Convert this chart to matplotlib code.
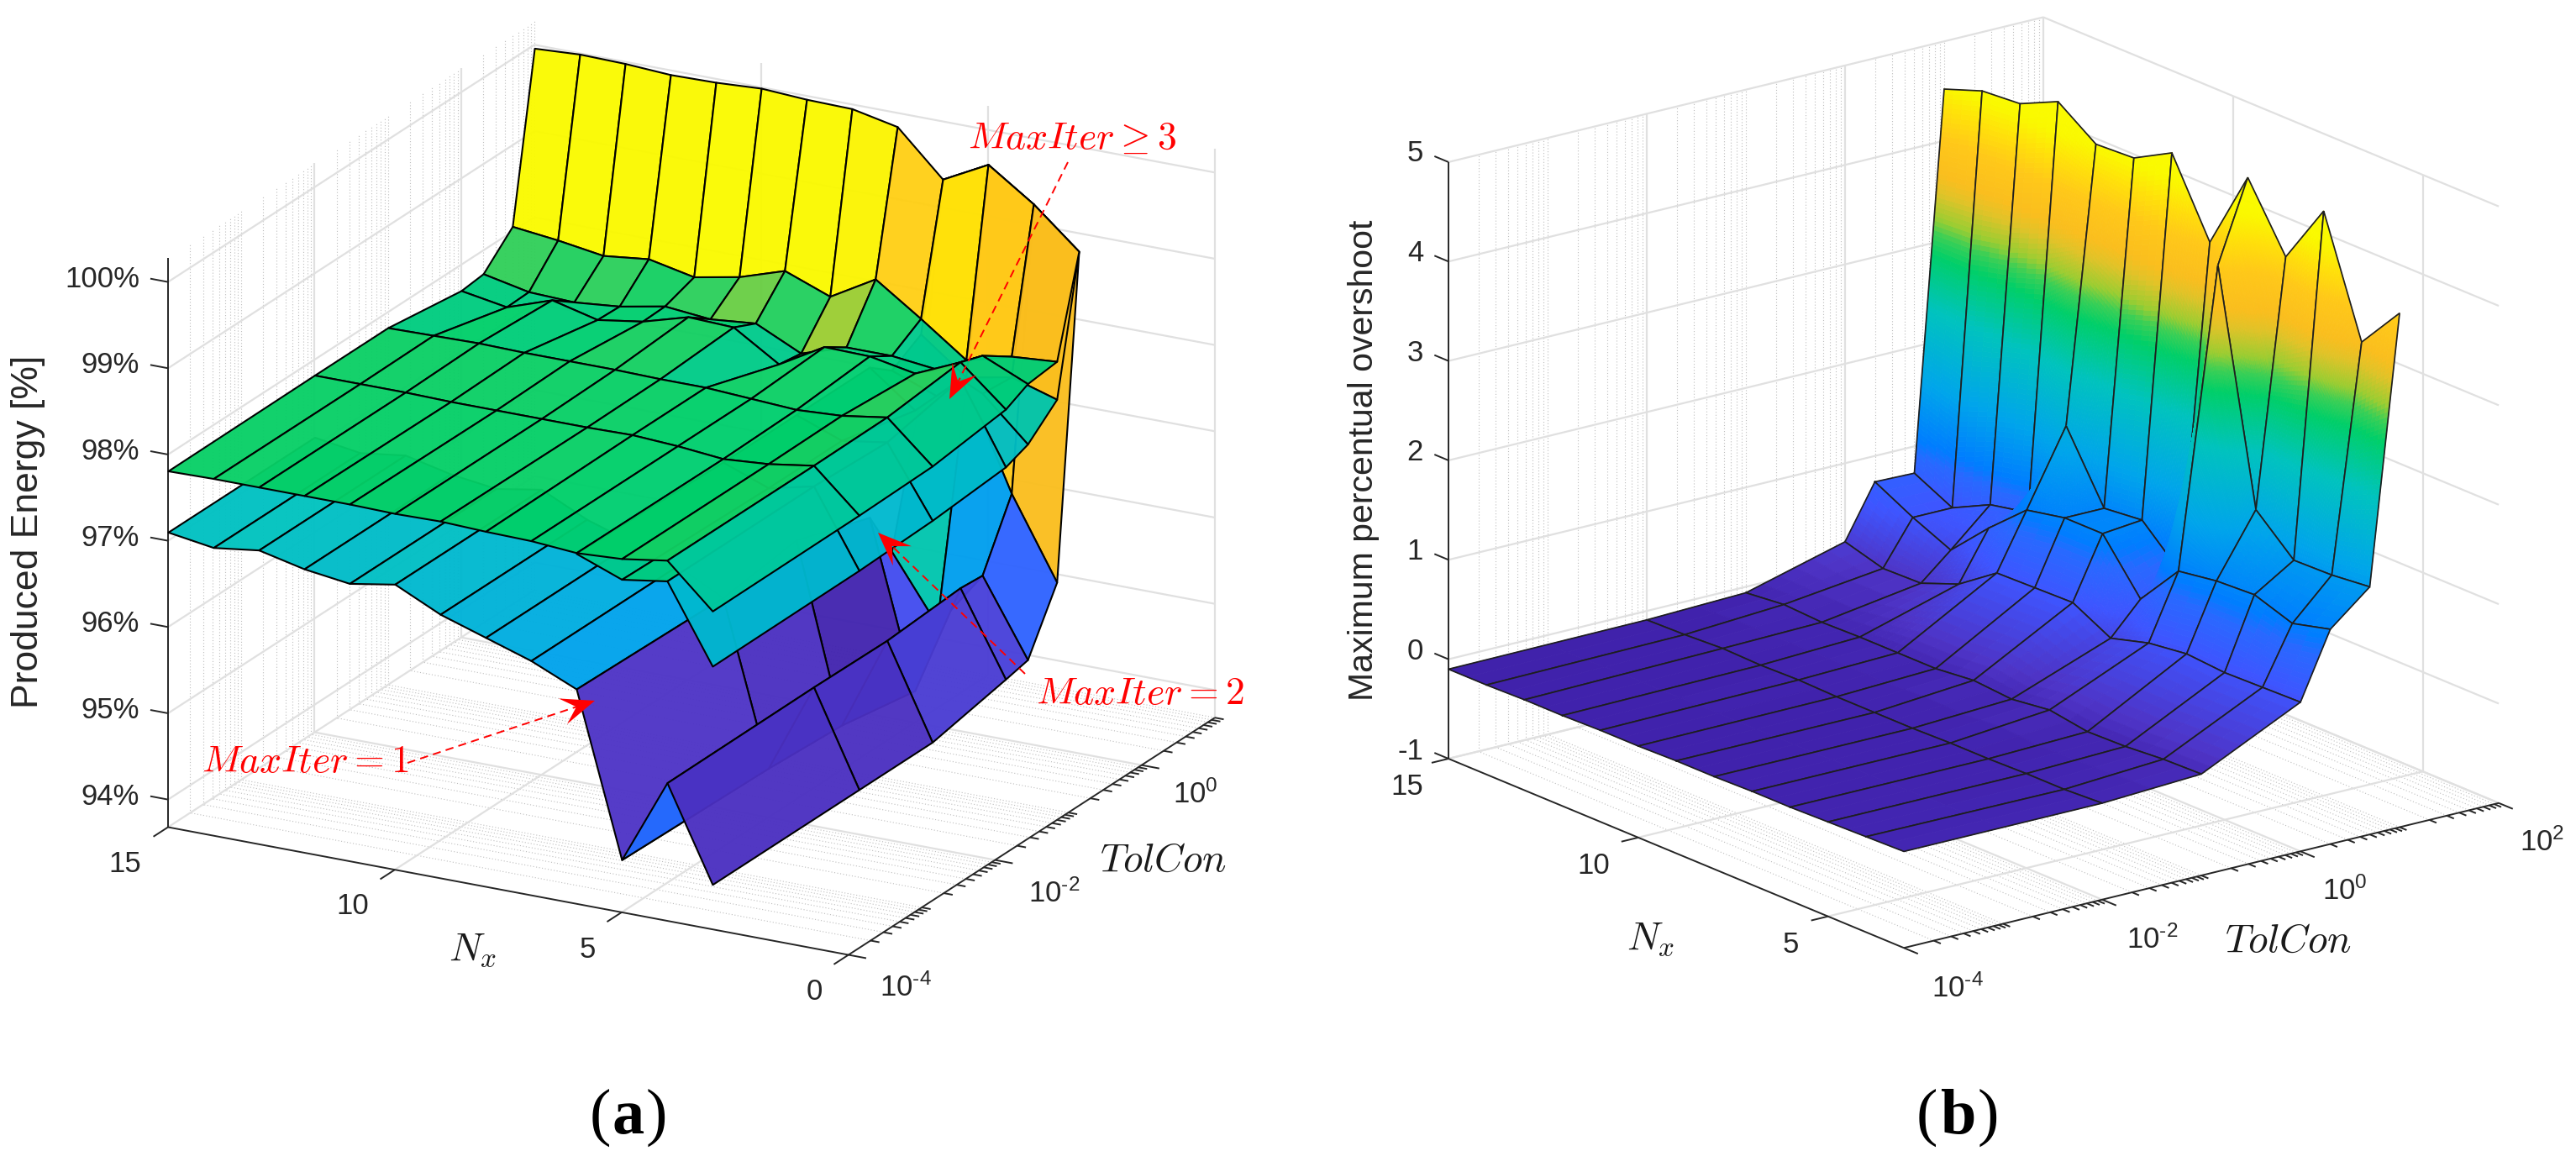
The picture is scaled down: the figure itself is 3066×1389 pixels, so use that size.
import numpy as np
import matplotlib
matplotlib.use('Agg')
import matplotlib.pyplot as plt
from matplotlib.colors import LinearSegmentedColormap, Normalize
from matplotlib.lines import Line2D
from matplotlib.patches import Polygon
from mpl_toolkits.mplot3d import proj3d
from mpl_toolkits.mplot3d.art3d import Poly3DCollection

plt.rcParams['mathtext.fontset'] = 'custom'
plt.rcParams['mathtext.rm'] = 'Liberation Sans'
plt.rcParams['mathtext.it'] = 'Liberation Sans:italic'
plt.rcParams['mathtext.bf'] = 'Liberation Sans:bold'

W, H = 3066, 1389

# ---------------------------------------------------------------- data
tolcon = [1e-4, 1e-2, 1e-1, 1, 2, 5, 10]
nx = [15, 14, 13, 12, 11, 10, 9, 8, 7, 6, 5, 4, 3]
nan = np.nan

energy_iter3 = [
    [97.81, 97.82, 97.82, 97.82, 97.82, 97.81, 97.82, 97.80, 97.79, 97.75, 97.78, 97.86, 97.37],
    [97.82, 97.82, 97.82, 97.81, 97.81, 97.81, 97.81, 97.82, 97.79, 97.74, 97.78, 97.86, 97.38],
    [97.82, 97.83, 97.84, 97.83, 97.83, 97.83, 97.82, 97.82, 97.79, 97.76, 97.79, 97.87, 97.40],
    [97.70, 97.61, 97.79, 97.66, 97.74, 97.89, 97.87, 97.54, 97.84, 97.83, 97.73, 97.96, 97.51],
    [97.73, 97.62, 97.60, 97.65, 97.75, 97.70, 97.75, 97.50, 97.67, 97.67, 97.61, 97.87, 97.64],
    [98.06, 98.00, 97.92, 97.98, 97.87, 97.97, 98.14, 97.94, 98.24, 97.88, 97.50, 97.64, 97.68],
    [99.96, 99.99, 99.98, 99.95, 99.96, 99.99, 99.96, 99.95, 99.84, 99.33, 99.60, 99.24, 98.79],
]
energy_iter2 = [
    [nan] * 9 + [97.74, 97.54, 97.62, 96.73],
    [nan] * 9 + [97.70, 97.50, 97.62, 96.74],
    [nan] * 9 + [97.70, 97.50, 97.58, 96.77],
    [nan] * 9 + [97.70, 97.30, 97.76, 96.84],
    [nan] * 9 + [97.50, 97.30, 97.43, 96.94],
    [nan] * 9 + [97.70, 97.30, 97.40, 97.24],
    [nan] * 9 + [99.33, 99.60, 99.24, 98.79],
]
energy_iter1 = [
    [97.10, 97.02, 97.09, 96.97, 96.90, 96.99, 96.74, 96.57, 96.40, 96.17, 94.29, 95.28, 94.20],
    [97.10, 97.02, 97.09, 96.97, 96.90, 96.99, 96.74, 96.57, 96.40, 96.13, 94.25, 95.29, 94.20],
    [nan] * 9 + [96.25, 94.20, 95.28, 94.20],
    [nan] * 9 + [95.96, 94.05, 95.34, 94.38],
    [nan] * 9 + [95.40, 94.65, 95.32, 94.44],
    [nan] * 9 + [97.00, 97.22, 96.05, 95.12],
    [nan] * 9 + [99.33, 99.60, 99.24, 98.79],
]
overshoot = [
    [-0.10, -0.10, -0.09, -0.09, -0.08, -0.08, -0.07, -0.07, -0.06, -0.06, -0.05, -0.04, -0.03],
    [-0.09, -0.08, -0.06, -0.07, -0.06, -0.07, -0.07, -0.07, -0.06, -0.06, -0.05, -0.05, -0.03],
    [-0.06, -0.02, -0.04, -0.03, -0.03, -0.03, 0.01, -0.02, 0.03, -0.03, -0.02, 0.01, 0.02],
    [0.21, 0.10, 0.11, 0.26, 0.53, 0.54, 0.55, 0.35, 0.46, 0.51, 0.48, 0.49, 0.50],
    [0.74, 0.54, 0.37, 0.75, 1.09, 1.17, 1.17, 0.67, 1.11, 1.17, 1.19, 1.06, 1.16],
    [0.73, 0.54, 0.73, 0.81, 1.84, 1.17, 1.21, 0.85, 4.09, 1.79, 1.44, 1.45, 1.49],
    [4.52, 4.66, 4.69, 4.87, 4.60, 4.62, 4.83, 4.09, 4.90, 4.26, 4.88, 3.72, 4.17],
]

energy_ticks = [94, 95, 96, 97, 98, 99, 100]
energy_ticklabels = ['94%', '95%', '96%', '97%', '98%', '99%', '100%']
overshoot_ticks = [-1, 0, 1, 2, 3, 4, 5]
overshoot_ticklabels = ['-1', '0', '1', '2', '3', '4', '5']
nx_ticks_a = [15, 10, 5, 0]
nx_ticks_b = [15, 10, 5]
tol_ticks_a = [-4, -2, 0]
tol_ticks_b = [-4, -2, 0, 2]

# ---------------------------------------------------------------- colours
anchors = [
    (0.00, (60, 28, 160)), (0.08, (64, 34, 172)), (0.115, (78, 52, 198)),
    (0.20, (62, 85, 255)), (0.27, (40, 105, 255)), (0.30, (0, 125, 255)),
    (0.41, (0, 165, 235)), (0.554, (0, 195, 190)), (0.66, (0, 207, 105)),
    (0.70, (60, 207, 85)), (0.73, (155, 205, 50)), (0.78, (225, 195, 40)),
    (0.814, (250, 190, 30)), (0.883, (255, 200, 25)), (0.94, (255, 225, 10)),
    (0.985, (250, 248, 0)), (1.0, (250, 250, 0)),
]
cmap = LinearSegmentedColormap.from_list(
    'boosted', [(p, tuple(v / 255 for v in c)) for p, c in anchors], N=512)
norm_a = Normalize(93.5, 100)
norm_b = Normalize(-0.49, 4.65)

GRID = '#e0e0e0'
MINOR = '#bdbdbd'
INK = '#262626'

fig = plt.figure(figsize=(W / 100, H / 100), dpi=100)
fig.patch.set_facecolor('white')


def fx(x):
    return x / W


def fy(y):
    return 1 - y / H


def to_px(ax, x, y, z):
    xs, ys, _ = proj3d.proj_transform(x, y, z, ax.M)
    return ax.transData.transform((xs, ys))


def make_axes(xlim, ylim, zlim, az, el, aspect, p0, p1, px0, px1):
    ax = fig.add_axes([0.1, 0.1, 800 / W, 800 / H], projection='3d',
                      computed_zorder=False, proj_type='ortho')
    ax.set_xlim(*xlim)
    ax.set_ylim(*ylim)
    ax.set_zlim(*zlim)
    ax.set_box_aspect(aspect)
    ax.view_init(elev=el, azim=az)
    ax.set_axis_off()
    ax.patch.set_visible(False)
    t0 = np.array([px0[0], H - px0[1]], float)
    t1 = np.array([px1[0], H - px1[1]], float)
    size = 800.0
    left, bottom = 300.0, 300.0
    for _ in range(4):
        ax.set_position([left / W, bottom / H, size / W, size / H])
        ax.apply_aspect()
        ax.M = ax.get_proj()
        a, b = to_px(ax, *p0), to_px(ax, *p1)
        size *= np.hypot(*(t1 - t0)) / np.hypot(*(b - a))
        ax.set_position([left / W, bottom / H, size / W, size / H])
        ax.apply_aspect()
        a = to_px(ax, *p0)
        left += t0[0] - a[0]
        bottom += t0[1] - a[1]
    ax.set_position([left / W, bottom / H, size / W, size / H])
    ax.apply_aspect()
    ax.M = ax.get_proj()
    return ax


def line3(ax, xs, ys, zs, color, lw, ls='-', z=1):
    ax.plot(xs, ys, zs, color=color, lw=lw, ls=ls, zorder=z, clip_on=False,
            solid_capstyle='butt')


def minor_positions(t0, t1, majors):
    out = []
    for k in range(int(t0), int(t1) + 1):
        for m in range(1, 10):
            v = k + np.log10(m)
            if t0 <= v <= t1 and not (m == 1 and k in majors):
                out.append(v)
    return out


def frame(ax, t0, t1, n0, n1, z0, z1, zticks, nticks, tticks, minor_len, n_len):
    dots = (0, (1, 2.2))
    minors = minor_positions(t0, t1, tticks)
    for v in minors:
        line3(ax, [v, v], [n0, n1], [z0, z0], MINOR, 0.8, dots)
        line3(ax, [v, v], [n1, n1], [z0, z1], MINOR, 0.8, dots)
    for zv in zticks:
        line3(ax, [t0, t1], [n1, n1], [zv, zv], GRID, 1.6, z=2)
        line3(ax, [t1, t1], [n1, n0], [zv, zv], GRID, 1.6, z=2)
    for v in tticks:
        if v > t0:
            line3(ax, [v, v], [n0, n1], [z0, z0], GRID, 1.6, z=2)
            line3(ax, [v, v], [n1, n1], [z0, z1], GRID, 1.6, z=2)
    for n in nticks:
        if n > n0 or n0 == 0:
            if n < n1 and n > n0:
                line3(ax, [t0, t1], [n, n], [z0, z0], GRID, 1.6, z=2)
        if n < n1:
            line3(ax, [t1, t1], [n, n], [z0, z1], GRID, 1.6, z=2)
    line3(ax, [t0, t1], [n1, n1], [z0, z0], GRID, 1.6, z=2)
    # axis lines and ticks
    line3(ax, [t0, t0], [n1, n1], [z0, z1], INK, 1.4, z=3)
    line3(ax, [t0, t0], [n0, n1], [z0, z0], INK, 1.4, z=3)
    line3(ax, [t0, t1], [n0, n0], [z0, z0], INK, 1.4, z=3)
    for zv in zticks:
        line3(ax, [t0, t0], [n1, n1 + n_len], [zv, zv], INK, 1.4, z=3)
    for n in nticks:
        line3(ax, [t0, t0 - minor_len], [n, n], [z0, z0], INK, 1.4, z=3)
    for v in tticks:
        line3(ax, [v, v], [n0, n0 - n_len], [z0, z0], INK, 1.4, z=3)
    for v in minors:
        line3(ax, [v, v], [n0, n0 - n_len / 2], [z0, z0], INK, 1.4, z=3)


counter = {'k': 0}


def next_z():
    counter['k'] += 1
    return 10 + counter['k'] * 0.01


def flat_surface(ax, z_table, norm, alpha):
    T = np.log10(np.array(tolcon))
    N = np.array(nx, float)
    Z = np.array(z_table, float)
    for i in range(len(T) - 2, -1, -1):
        for j in range(len(N) - 1):
            q = [(i, j), (i, j + 1), (i + 1, j + 1), (i + 1, j)]
            if any(np.isnan(Z[a, b]) for a, b in q):
                continue
            rgba = list(cmap(norm(Z[i + 1, j + 1])))
            rgba[3] = alpha
            verts = [[(T[a], N[b], Z[a, b]) for a, b in q]]
            c = Poly3DCollection(verts, facecolors=[rgba], edgecolors='black',
                                 linewidths=1.5, zorder=next_z())
            ax.add_collection3d(c, autolim=False)
            c.set_clip_on(False)


def smooth_surface(ax, z_table, norm, px_per_z):
    T = np.log10(np.array(tolcon))
    N = np.array(nx, float)
    Z = np.array(z_table, float)
    for i in range(len(T) - 2, -1, -1):
        for j in range(len(N) - 1):
            dz_t = max(abs(Z[i + 1, j] - Z[i, j]), abs(Z[i + 1, j + 1] - Z[i, j + 1]))
            dz_n = max(abs(Z[i, j + 1] - Z[i, j]), abs(Z[i + 1, j + 1] - Z[i + 1, j]))
            nb = max(2, int(np.ceil(dz_t * px_per_z / 6)))
            na = max(2, int(np.ceil(dz_n * px_per_z / 6)))
            us = np.linspace(0, 1, na + 1)
            vs = np.linspace(0, 1, nb + 1)
            verts, faces = [], []
            for a in range(na):
                for b in range(nb):
                    cell = []
                    zsum = 0
                    for u, v in [(us[a], vs[b]), (us[a + 1], vs[b]),
                                 (us[a + 1], vs[b + 1]), (us[a], vs[b + 1])]:
                        zz = ((1 - u) * (1 - v) * Z[i, j] + u * (1 - v) * Z[i, j + 1]
                              + (1 - u) * v * Z[i + 1, j] + u * v * Z[i + 1, j + 1])
                        cell.append((T[i] + v * (T[i + 1] - T[i]),
                                     N[j] + u * (N[j + 1] - N[j]), zz))
                        zsum += zz
                    verts.append(cell)
                    faces.append(cmap(norm(zsum / 4)))
            zo = next_z()
            c = Poly3DCollection(verts, facecolors=faces, edgecolors=faces,
                                 linewidths=0.6, zorder=zo)
            ax.add_collection3d(c, autolim=False)
            c.set_clip_on(False)
            ox = [T[i], T[i], T[i + 1], T[i + 1], T[i]]
            oy = [N[j], N[j + 1], N[j + 1], N[j], N[j]]
            oz = [Z[i, j], Z[i, j + 1], Z[i + 1, j + 1], Z[i + 1, j], Z[i, j]]
            ax.plot(ox, oy, oz, color='#1e1e1e', lw=1.25, zorder=zo + 0.005,
                    clip_on=False, solid_joinstyle='miter')


# ---------------------------------------------------------------- panel a
ax_a = make_axes((-4, 1), (0, 15), (93.68, 100.28), -151.7, 20.4, (1, 1, 0.786),
                 (-4, 15, 93.68), (1, 0, 93.68), (200, 984.5), (1446, 854.5))
frame(ax_a, -4, 1, 0, 15, 93.68, 100.28, energy_ticks, nx_ticks_a, tol_ticks_a, 0.2, 0.39)
for surface in (energy_iter1, energy_iter2, energy_iter3):
    flat_surface(ax_a, surface, norm_a, 0.96)

# ---------------------------------------------------------------- panel b
ax_b = make_axes((-4, 2), (3, 15), (-1, 5), -127.44, 18.55, (1, 1, 0.84),
                 (-4, 15, -1), (2, 3, -1), (1724, 903), (2974, 957))
frame(ax_b, -4, 2, 3, 15, -1, 5, overshoot_ticks, nx_ticks_b, tol_ticks_b, 0.17, 0.37)
smooth_surface(ax_b, overshoot, norm_b, 118.5)

# ---------------------------------------------------------------- text
SANS = 'Liberation Sans'


def tick_text(x, y, s, ha='center'):
    fig.text(fx(x), fy(y), s, family=SANS, fontsize=25, color=INK, ha=ha, va='center',
             math_fontfamily='custom')


def math_text(x, y, s, color='#1a1a1a', size=34):
    fig.text(fx(x), fy(y), s, fontsize=size, color=color, ha='center', va='center',
             math_fontfamily='cm')


for v, s in zip(energy_ticks, energy_ticklabels):
    tick_text(166, 335 + (100 - v) * 102.7 - 3, s, ha='right')
for v, s in zip(overshoot_ticks, overshoot_ticklabels):
    tick_text(1694, 192 + (5 - v) * 118.5 - 9, s, ha='right')

for (x, y), n in zip([(149, 1029), (420, 1079), (699, 1130), (969, 1180)], nx_ticks_a):
    tick_text(x, y, str(n))
for (x, y), n in zip([(1675, 937), (1897, 1030), (2131, 1124)], nx_ticks_b):
    tick_text(x, y, str(n))


def tol_label(e):
    if e < 0:
        return r'$10^{\text{-%d}}$' % abs(e)
    return r'$10^{%d}$' % e


for (x, y), e in zip([(1078, 1176), (1255, 1064), (1423, 946)], tol_ticks_a):
    tick_text(x, y, tol_label(e))
for (x, y), e in zip([(2330, 1177), (2562, 1119), (2791, 1061), (3026, 1003)], tol_ticks_b):
    tick_text(x, y, tol_label(e))

fig.text(fx(34), fy(633), 'Produced Energy [%]', family=SANS, fontsize=32, color=INK,
         rotation=90, ha='center', va='center')
fig.text(fx(1623), fy(548), 'Maximum percentual overshoot', family=SANS, fontsize=29.5,
         color=INK, rotation=90, ha='center', va='center')

math_text(563, 1131, r'$N_x$')
math_text(1384, 1024, r'$TolCon$')
math_text(1965, 1118, r'$N_x$')
math_text(2723, 1120, r'$TolCon$')

math_text(1276, 164, r'$MaxIter \geq 3$', 'red', 33)
math_text(1357, 825, r'$MaxIter = 2$', 'red', 33)
math_text(363, 906, r'$MaxIter = 1$', 'red', 33)


def arrow(tail, tip, L=40, wd=16):
    tail = np.array(tail, float)
    tip = np.array(tip, float)
    u = (tail - tip) / np.hypot(*(tail - tip))
    n = np.array([-u[1], u[0]])
    notch = tip + u * L * 0.58
    fig.add_artist(Line2D([fx(tail[0]), fx(notch[0])], [fy(tail[1]), fy(notch[1])],
                          color='red', lw=1.4, ls=(0, (5, 3.2)),
                          transform=fig.transFigure, zorder=20))
    pts = [tip, tip + u * L + n * wd, notch, tip + u * L - n * wd]
    fig.add_artist(Polygon([(fx(p[0]), fy(p[1])) for p in pts], closed=True, fc='red',
                           ec='none', transform=fig.transFigure, zorder=21))


arrow((485, 908), (708, 834))
arrow((1220, 802), (1045, 634))
arrow((1271, 193), (1130, 475))

# panel captions
SERIF = 'Liberation Serif'
for cx, letter in ((748, 'a'), (2330, 'b')):
    w = 18 if letter == 'a' else 21
    fig.text(fx(cx - w - 3), fy(1330), '(', family=SERIF, fontsize=55, color='black', ha='right', va='center')
    fig.text(fx(cx), fy(1330), letter, family=SERIF, fontsize=55, fontweight='bold', color='black', ha='center', va='center')
    fig.text(fx(cx + w + 3), fy(1330), ')', family=SERIF, fontsize=55, color='black', ha='left', va='center')

fig.savefig('out.png', dpi=100, facecolor='white')
